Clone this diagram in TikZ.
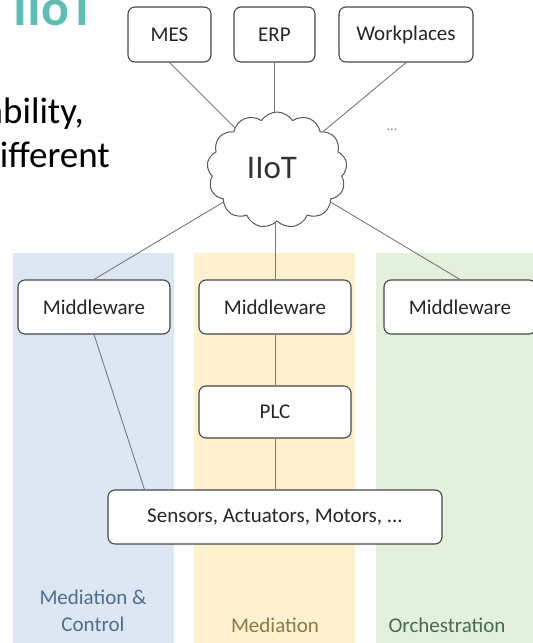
\documentclass[tikz,border=0pt]{standalone}
\usepackage{fontspec}
\setmainfont{Carlito}
\usetikzlibrary{shapes.symbols}

\definecolor{lanebluefill}{RGB}{221,231,243}
\definecolor{laneyellowfill}{RGB}{253,241,208}
\definecolor{lanegreenfill}{RGB}{227,240,220}
\definecolor{laneblueink}{RGB}{78,108,140}
\definecolor{laneyellowink}{RGB}{138,122,70}
\definecolor{lanegreenink}{RGB}{78,104,80}
\definecolor{boxedge}{RGB}{70,70,70}
\definecolor{wireink}{RGB}{120,120,120}
\definecolor{titleteal}{RGB}{92,190,180}

\tikzset{
  compbox/.style={draw=boxedge, line width=1.1pt, rounded corners=7pt, fill=white,
    font=\fontsize{21}{24}\selectfont, text=black!85, inner sep=0pt, align=center},
  wire/.style={draw=wireink, line width=0.9pt},
  lanelabel/.style={font=\fontsize{21}{27}\selectfont, align=center, inner sep=0pt},
  slidetext/.style={font=\fontsize{37}{42}\selectfont, text=black, inner sep=0pt}
}

\begin{document}
\begin{tikzpicture}[x=1pt,y=-1pt]
  \useasboundingbox (0,0) rectangle (533,643);
  \clip (0,0) rectangle (533,643);

  % background lanes
  \fill[lanebluefill]   (13,253)  rectangle (174,643);
  \fill[laneyellowfill] (194,253) rectangle (355,643);
  \fill[lanegreenfill]  (376,253) rectangle (540,643);

  % slide text around the figure
  \node[anchor=base east, inner sep=0pt, font=\bfseries\fontsize{52}{56}\selectfont, text=titleteal] (title) at (95,25) {e IIoT};
  \node[slidetext, anchor=base east] (line1) at (84,123) {ability,};
  \node[slidetext, anchor=base east] (line2) at (110,167) {ifferent};

  % top systems
  \node[compbox, minimum width=83pt, minimum height=55pt] (mes) at (169.5,34.5) {MES};
  \node[compbox, minimum width=81pt, minimum height=55pt] (erp) at (274.5,34.5) {ERP};
  \node[compbox, minimum width=134pt, minimum height=55pt] (wp) at (406,34.5) {Workplaces};
  \node[text=black!50, font=\fontsize{14}{14}\selectfont, inner sep=0pt] (more) at (392,130) {...};

  % cloud
  \node[cloud, cloud puffs=13, cloud puff arc=115, aspect=1.2, draw=black!65, line width=1pt, fill=white,
        minimum width=140pt, minimum height=116pt, inner sep=0pt] (iiot) at (277,170) {};
  \node[font=\fontsize{33}{36}\selectfont, text=black!80, inner sep=0pt] (iiotlabel) at (272,168) {IIoT};

  % middleware, PLC, field devices
  \node[compbox, minimum width=152pt, minimum height=54pt] (mwl) at (94,307) {Middleware};
  \node[compbox, minimum width=152pt, minimum height=54pt] (mwc) at (275,307) {Middleware};
  \node[compbox, minimum width=152pt, minimum height=54pt] (mwr) at (460,307) {Middleware};
  \node[compbox, minimum width=152pt, minimum height=52pt] (plc) at (275,412) {PLC};
  \node[compbox, minimum width=334pt, minimum height=54pt] (sensors) at (275,517) {Sensors, Actuators, Motors, ...};
  \coordinate (sensorstap) at ([xshift=37pt]sensors.north west);

  % connections
  \draw[wire] (mes.south) -- (iiot);
  \draw[wire] (erp.south) -- (iiot.north -| erp.south);
  \draw[wire] (wp.south) -- (iiot);
  \draw[wire] (mwl.north) -- (iiot);
  \draw[wire] (mwc.north) -- (iiot.south -| mwc.north);
  \draw[wire] (mwr.north) -- (iiot);
  \draw[wire] (mwc.south) -- (plc.north);
  \draw[wire] (plc.south) -- (sensors.north -| plc.south);
  \draw[wire] (mwl.south) -- (sensorstap);

  % lane labels
  \node[lanelabel, text=laneblueink] (lblmc) at (93,611) {Mediation \&\\Control};
  \node[lanelabel, text=laneyellowink] (lblm) at (275,625) {Mediation};
  \node[lanelabel, text=lanegreenink] (lblo) at (447,625) {Orchestration};
\end{tikzpicture}
\end{document}
